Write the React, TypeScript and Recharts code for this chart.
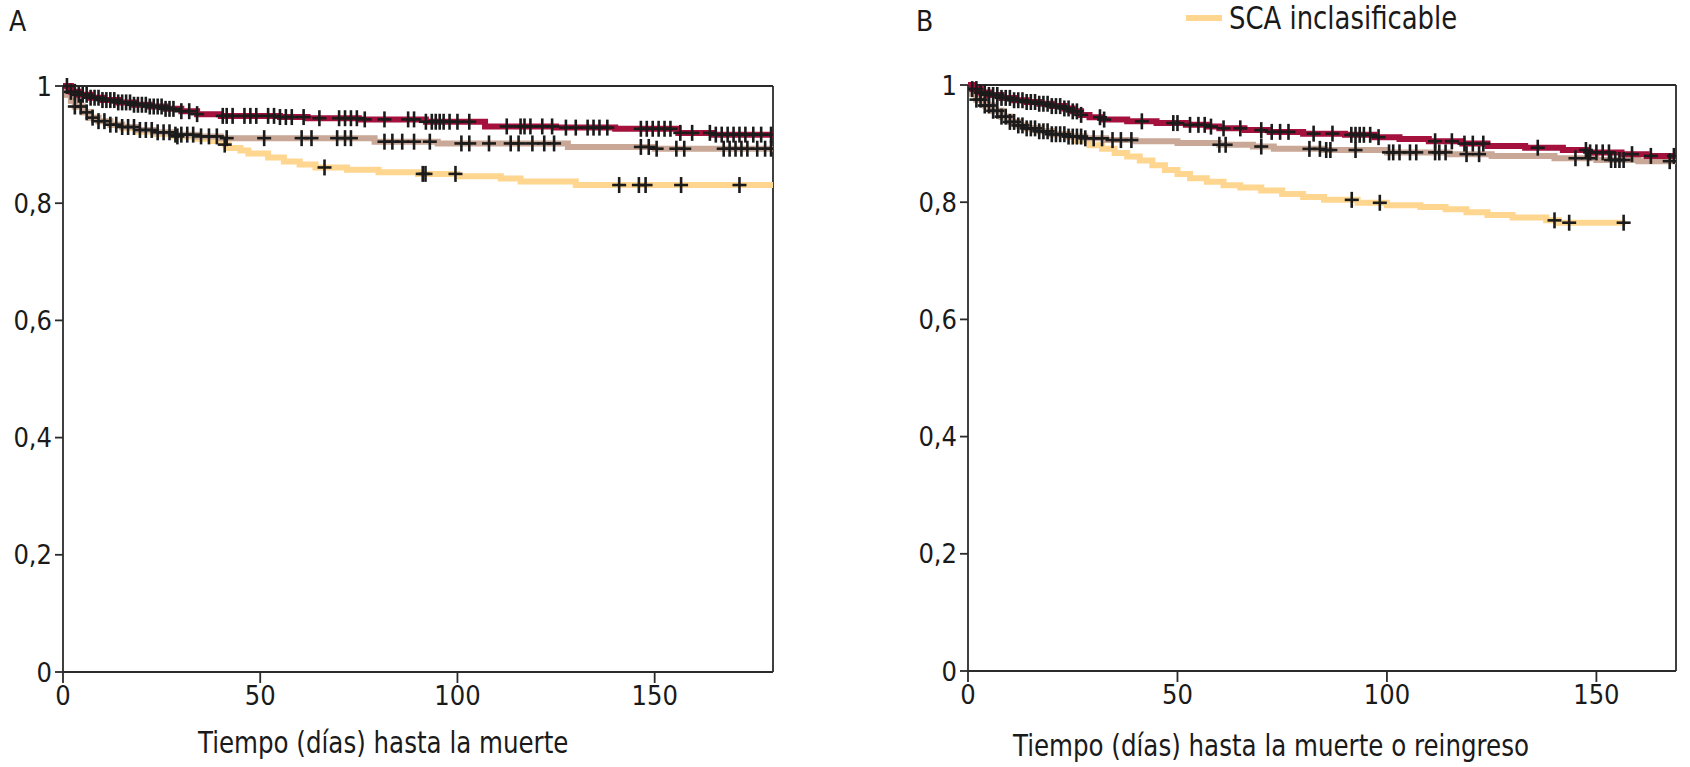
import React from "react";
import { ComposedChart, Line, Scatter, XAxis, YAxis, ReferenceLine } from "recharts";

// Panel A: time to death (days) — Kaplan-Meier steps [t, survival]
const aRedT = [0, 2, 4, 7, 10, 14, 18, 22, 26, 30, 34, 40, 55, 62, 75, 92, 107, 125, 140, 156, 165, 180];
const aRedS = [1, 0.99, 0.985, 0.98, 0.976, 0.972, 0.968, 0.965, 0.961, 0.957, 0.952, 0.949, 0.947, 0.945, 0.943, 0.939, 0.931, 0.929, 0.927, 0.92, 0.917, 0.917];
const aBrownT = [0, 1, 2, 3, 5, 7, 9, 12, 15, 19, 23, 28, 34, 40, 79, 95, 128, 150, 180];
const aBrownS = [1, 0.985, 0.975, 0.965, 0.955, 0.946, 0.94, 0.934, 0.93, 0.925, 0.921, 0.917, 0.914, 0.911, 0.905, 0.902, 0.896, 0.893, 0.893];
const aYellowT = [0, 1, 2, 3, 5, 7, 9, 12, 15, 19, 23, 28, 34, 38, 41, 42, 45, 47, 52, 56, 60, 64, 72, 80, 90, 100, 111, 116, 130, 180];
const aYellowS = [1, 0.985, 0.975, 0.965, 0.955, 0.946, 0.94, 0.934, 0.928, 0.922, 0.918, 0.914, 0.91, 0.906, 0.9, 0.894, 0.89, 0.885, 0.878, 0.871, 0.866, 0.861, 0.857, 0.853, 0.85, 0.846, 0.842, 0.837, 0.831, 0.831];

// Panel A censored times
const aRedC = [1, 2, 3, 4, 5, 6, 7, 8, 9, 10, 11, 12, 13, 14, 15, 16, 17, 18, 19, 20, 21, 22, 23, 24, 25, 26, 27, 28, 30, 32, 34,
  40.5, 41.5, 43, 46, 47.5, 49, 52, 53.5, 55, 56.5, 58, 61, 65, 70, 71.5, 73, 74.5, 76.5, 81.5, 87.5, 89, 92, 93.5, 94.5, 95.5,
  96.5, 98, 100, 103, 112.5, 116, 117, 118.5, 121.5, 124, 127.5, 130, 133, 134.5, 136, 138, 146.5, 148, 149.5, 151, 152.5, 154,
  156.5, 159.5, 164, 165.5, 167, 168.5, 170, 171.5, 173, 175, 177, 179.5];
const aBrownC = [3, 4.5, 6, 7.5, 9, 10.5, 12, 13.5, 15, 16.5, 18, 19.5, 21, 22.5, 24, 25.5, 27, 28.5, 30, 31.5, 33, 35, 37, 39, 41.5,
  51, 60.5, 63, 69.5, 71.5, 73, 81.5, 83.5, 86, 89, 93, 101, 103, 108, 113.5, 115.5, 119, 122, 124.5, 146.5, 148.5, 150.5, 155.5,
  157.5, 167.5, 169, 170.5, 172, 173.5, 176, 178, 179.5];
const aYellowC = [29, 41, 66.3, 91.2, 91.9, 99.5, 141, 146, 147.7, 156.7, 171.5];

// Panel B: time to death or readmission (days)
const bRedT = [0, 1, 3, 5, 8, 11, 14, 17, 20, 23, 25, 27, 29, 32, 38, 45, 52, 57, 60, 66, 72, 80, 90, 97, 103, 110, 118, 124, 133, 142, 148, 156, 162, 169];
const bRedS = [1, 0.993, 0.987, 0.983, 0.978, 0.974, 0.971, 0.968, 0.964, 0.96, 0.955, 0.949, 0.945, 0.941, 0.938, 0.935, 0.932, 0.929, 0.926, 0.923, 0.92, 0.917, 0.915, 0.911, 0.908, 0.904, 0.9, 0.896, 0.893, 0.889, 0.885, 0.882, 0.879, 0.877];
const bBrownT = [0, 1, 2, 4, 6, 8, 10, 12, 14, 17, 20, 24, 28, 33, 40, 50, 60, 68, 73, 85, 100, 115, 125, 140, 150, 160, 169];
const bBrownS = [1, 0.985, 0.975, 0.965, 0.956, 0.946, 0.937, 0.931, 0.926, 0.921, 0.916, 0.912, 0.909, 0.906, 0.904, 0.901, 0.898, 0.895, 0.891, 0.889, 0.885, 0.882, 0.879, 0.875, 0.872, 0.87, 0.869];
const bYellowT = [0, 1, 2, 4, 6, 8, 10, 12, 14, 17, 20, 24, 26, 29, 32, 35, 38, 41, 44, 47, 50, 53, 57, 61, 65, 70, 75, 80, 85, 93, 100, 108, 114, 119, 124, 130, 138, 141, 157];
const bYellowS = [1, 0.985, 0.975, 0.965, 0.956, 0.946, 0.937, 0.931, 0.926, 0.921, 0.916, 0.912, 0.905, 0.897, 0.891, 0.884, 0.878, 0.871, 0.863, 0.855, 0.848, 0.841, 0.835, 0.829, 0.825, 0.82, 0.814, 0.809, 0.804, 0.799, 0.795, 0.792, 0.788, 0.783, 0.778, 0.774, 0.769, 0.765, 0.765];

const bRedC = [1, 2, 3, 4, 5, 6, 7, 8, 9, 10, 11, 12, 13, 14, 15, 16, 17, 18, 19, 20, 21, 22, 23, 24, 25, 26, 27, 31.5, 32.5, 41.5,
  49, 50, 53, 55, 56.5, 58, 61, 65, 70, 72.5, 74.5, 76.5, 82.5, 87, 91.5, 92.5, 93.5, 94.5, 96, 98, 111.5, 115.5, 118.5, 120.5,
  123, 136, 147.5, 148.5, 150, 151.5, 153, 158.5, 163, 168.5];
const bBrownC = [2, 3, 4, 5, 6, 7, 8, 9, 10, 11, 12, 13, 14, 15, 16, 17, 18, 19, 20, 21, 22, 23, 24, 25, 26, 27, 28, 30, 32, 34.5,
  36.5, 39, 60, 61.5, 70, 81.5, 84, 85.5, 86.5, 92.5, 100.5, 101.5, 103, 105.5, 107, 111.5, 112.5, 114, 119, 122, 145, 148,
  153.5, 154.5, 155.5, 156.5, 167.5];
const bYellowC = [91.6, 98.3, 140, 143.5, 156.5];

const yTicks = [0, 0.2, 0.4, 0.6, 0.8, 1];
const xTicks = [0, 50, 100, 150];

const RED = "#a3113c";
const BROWN = "#c9a898";
const YELLOW = "#fed690";
const FONT = "'Liberation Sans Narrow', 'DejaVu Sans Condensed', 'Roboto Condensed', 'Arial Narrow', Roboto, sans-serif";

const steps = (t: number[], s: number[]) => t.map((v, i) => ({ t: v, s: s[i] }));
// censor mark sits on the curve value at that time
const marks = (c: number[], t: number[], s: number[]) =>
  c.map((x) => {
    let v = s[0];
    t.forEach((tt, i) => { if (tt <= x) v = s[i]; });
    return { t: x, s: v };
  });

const Cross = (p: any) => (
  <g>
    <line x1={p.cx} x2={p.cx} y1={p.cy - 8} y2={p.cy + 8} stroke="#1b1b1b" strokeWidth={2.6} />
    <line x1={p.cx - 7} x2={p.cx + 7} y1={p.cy} y2={p.cy} stroke="#1b1b1b" strokeWidth={2.6} />
  </g>
);

const fmtY = (v: number) => (v === 0 || v === 1 ? String(v) : v.toFixed(1).replace(".", ","));

const tickStyle = { fontFamily: FONT, fontSize: 27, fill: "#1a1a1a" };

const KM = ({ xMax, series, censors, margin, width }: any) => (
  <ComposedChart width={width} height={767} margin={margin}>
    <XAxis
      dataKey="t"
      type="number"
      domain={[0, xMax]}
      ticks={xTicks}
      allowDataOverflow
      height={40}
      tickSize={11}
      tickMargin={3}
      stroke="#2b2b2b"
      strokeWidth={1.8}
      tick={tickStyle}
    />
    <YAxis
      type="number"
      domain={[0, 1]}
      ticks={yTicks}
      width={63}
      tickSize={8}
      tickMargin={3}
      tickFormatter={fmtY}
      stroke="#2b2b2b"
      strokeWidth={1.8}
      tick={tickStyle}
    />
    <ReferenceLine y={1} stroke="#2b2b2b" strokeWidth={1.8} />
    <ReferenceLine x={xMax} stroke="#2b2b2b" strokeWidth={1.8} />
    {series.map((sr: any) => (
      <Line key={sr.key} data={sr.data} dataKey="s" type="stepAfter" stroke={sr.color} strokeWidth={6}
        dot={false} activeDot={false} isAnimationActive={false} />
    ))}
    {censors.map((c: any) => (
      <Scatter key={c.key} data={c.data} dataKey="s" shape={Cross} isAnimationActive={false} />
    ))}
  </ComposedChart>
);

const label = (extra: any): any => ({
  position: "absolute", fontFamily: FONT, color: "#1a1a1a", whiteSpace: "nowrap",
  transformOrigin: "left top", lineHeight: 1, ...extra,
});

export default function App() {
  const seriesA = [
    { key: "y", color: YELLOW, data: steps(aYellowT, aYellowS) },
    { key: "b", color: BROWN, data: steps(aBrownT, aBrownS) },
    { key: "r", color: RED, data: steps(aRedT, aRedS) },
  ];
  const censorsA = [
    { key: "cy", data: marks(aYellowC, aYellowT, aYellowS) },
    { key: "cb", data: marks(aBrownC, aBrownT, aBrownS) },
    { key: "cr", data: marks(aRedC, aRedT, aRedS) },
  ];
  const seriesB = [
    { key: "y", color: YELLOW, data: steps(bYellowT, bYellowS) },
    { key: "b", color: BROWN, data: steps(bBrownT, bBrownS) },
    { key: "r", color: RED, data: steps(bRedT, bRedS) },
  ];
  const censorsB = [
    { key: "cy", data: marks(bYellowC, bYellowT, bYellowS) },
    { key: "cb", data: marks(bBrownC, bBrownT, bBrownS) },
    { key: "cr", data: marks(bRedC, bRedT, bRedS) },
  ];

  return (
    <div style={{ position: "absolute", left: 0, top: 0, width: 1690, height: 767, background: "#fff", overflow: "hidden" }}>
      <div style={{ position: "absolute", left: 0, top: 0 }}>
        <KM width={845} xMax={180} series={seriesA} censors={censorsA} margin={{ top: 86, right: 72, bottom: 55, left: 0 }} />
      </div>
      <div style={{ position: "absolute", left: 905, top: 0 }}>
        <KM width={785} xMax={169} series={seriesB} censors={censorsB} margin={{ top: 85, right: 14, bottom: 56, left: 0 }} />
      </div>

      <div style={label({ left: 9, top: 8, fontSize: 28 })}>A</div>
      <div style={label({ left: 916, top: 8, fontSize: 28 })}>B</div>

      <div style={{ position: "absolute", left: 1186, top: 15, width: 36, height: 6, background: YELLOW }} />
      <div style={label({ left: 1229, top: 2, fontSize: 32, transform: "scaleX(0.9)" })}>SCA inclasificable</div>

      <div style={label({ left: 198, top: 727, fontSize: 31, transform: "scaleX(0.88)" })}>Tiempo (días) hasta la muerte</div>
      <div style={label({ left: 1013, top: 730, fontSize: 31, transform: "scaleX(0.88)" })}>Tiempo (días) hasta la muerte o reingreso</div>
    </div>
  );
}
